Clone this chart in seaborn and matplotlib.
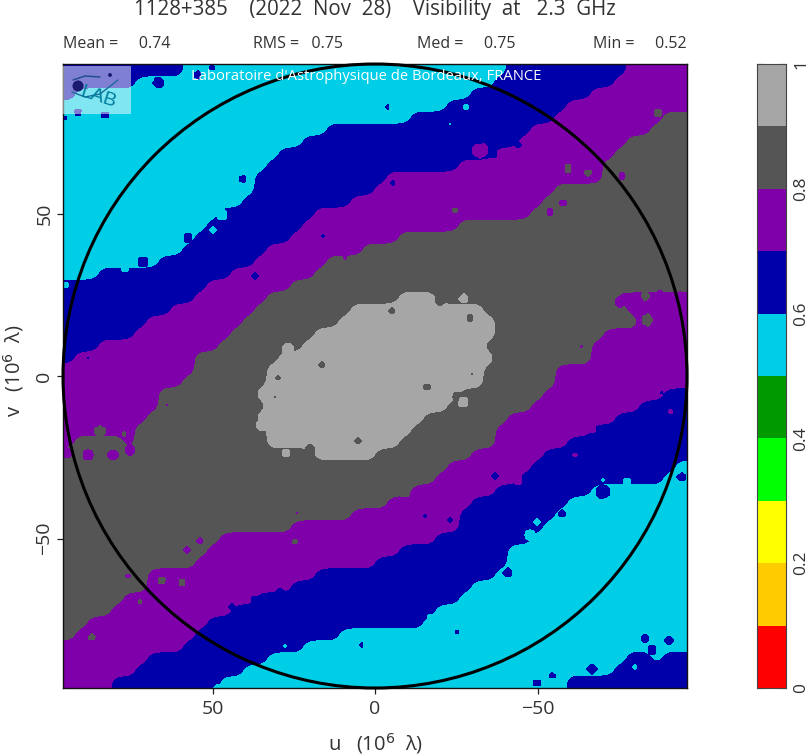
import numpy as np
import matplotlib
matplotlib.use("Agg")
import matplotlib.pyplot as plt
from matplotlib.colors import ListedColormap
from matplotlib.patches import Circle, Rectangle
from matplotlib.ticker import MultipleLocator
import seaborn as sns

# Visibility level of each map row (top to bottom).
# Each token is "tenths-band:end column" on a 52-column grid.
ROWS = [
"6:10 5:37 6:47 7:52", "6:6 5:36 6:46 7:52", "6:1 5:34 6:44 7:52", "5:32 6:42 7:52",
"5:29 6:41 7:50 8:52", "5:22 6:39 7:49 8:52", "5:20 6:38 7:47 8:52", "5:18 6:36 7:46 8:52",
"5:17 6:33 7:45 8:52", "5:16 6:27 7:45 8:52", "5:16 6:26 7:41 8:52", "5:15 6:24 7:40 8:52",
"5:13 6:21 7:39 8:52", "5:12 6:20 7:33 8:52", "5:11 6:19 7:28 8:52", "5:10 6:17 7:25 8:52",
"5:8 6:16 7:22 8:52", "5:3 6:14 7:21 8:52", "6:12 7:19 8:52",
"6:11 7:17 8:28 9:31 8:46 7:52",
"6:9 7:16 8:24 9:35 8:47 7:52",
"6:7 7:15 8:23 9:36 8:48 7:52", "6:6 7:14 8:21 9:36 8:45 7:52", "6:3 7:13 8:20 9:35 8:44 7:52",
"6:1 7:11 8:18 9:36 8:44 7:52", "7:11 8:17 9:35 8:41 7:52", "7:10 8:17 9:35 8:41 7:52",
"7:8 8:16 9:33 8:40 7:50 6:52", "7:8 8:17 9:32 8:39 7:48 6:52", "7:7 8:16 9:30 8:37 7:46 6:52",
"7:6 8:17 9:29 8:36 7:44 6:52", "7:1 8:5 7:6 8:17 9:28 8:36 7:42 6:52",
"8:21 9:26 8:34 7:40 6:52", "8:32 7:39 6:51 5:52", "8:31 7:38 6:50 5:52",
"8:29 7:36 6:44 5:52", "8:27 7:34 6:42 5:52", "8:24 7:33 6:41 5:52",
"8:19 7:33 6:40 5:52", "8:13 7:31 6:39 5:52", "8:12 7:28 6:37 5:52", "8:11 7:26 6:37 5:52",
"8:7 7:21 6:36 5:52", "8:7 7:19 6:34 5:52", "8:5 7:16 6:33 5:52", "8:4 7:14 6:31 5:52",
"8:2 7:12 6:30 5:52", "8:1 7:11 6:23 5:52", "7:10 6:20 5:52",
"7:7 6:17 5:47 6:49 5:50 6:52", "7:6 6:15 5:46 6:52", "7:4 6:13 5:42 6:52",
]
# Small islands in the map: picture x, picture y, radius (px), band in tenths.
SPOT_X = [159,212,198,242,188,222,213,125,143,78,105,65,65,88,323,255,345,322,278,288,
          388,466,450,393,518,493,455,550,563,568,588,658,622,392,440,464,475,485,470,
          620,637,660,680,625,648,582,358,310,275,263,275,286,168,100,124,88,113,130,67,
          200,187,128,162,182,140,92,295,297,255,232,280,357,285,362,217,472,427,457,463,
          495,425,450,405,508,478,537,552,592,645,652,669,635,562,530,537,627,603,682,682,
          592,662,671,575,518,457,430,603,660,480,645]
SPOT_Y = [83,68,75,179,238,215,230,268,262,113,115,118,285,358,236,276,258,365,378,350,
          107,107,124,183,145,155,210,212,203,168,172,113,176,311,302,299,310,326,318,
          302,298,298,298,318,320,347,441,450,397,425,442,453,405,432,434,455,455,450,453,
          541,550,576,581,583,602,638,542,513,600,607,593,570,646,645,687,374,387,397,402,
          476,516,520,493,573,588,683,676,669,638,650,640,667,514,535,522,482,480,470,477,
          428,393,412,455,480,632,618,492,305,150,296]
SPOT_R = [5,3,4,4,4,6,4,5,5,3,4,3,4,2,3,4,3,4,3,6,
          2,3,2,3,4,4,3,4,4,4,3,3,4,4,5,4,5,6,4,
          6,7,8,7,2,5,2,4,6,2,6,5,3,2,5,2,6,6,6,6,
          4,4,3,3,3,2,3,3,2,5,4,5,3,3,2,3,2,4,5,5,
          4,3,3,4,4,4,4,3,4,4,4,4,3,3,6,4,5,3,5,4,
          4,2,2,2,4,2,4,6,7,7,4]
SPOT_BAND = [6,6,6,6,6,5,5,5,6,6,6,6,5,6,6,6,7,8,8,9,
             6,5,5,6,6,6,8,7,7,8,8,8,7,8,8,9,9,9,8,
             7,7,7,7,8,8,7,8,8,8,9,9,9,7,8,8,7,7,7,7,
             7,7,7,8,8,8,8,8,7,6,6,6,6,5,6,5,8,8,8,9,
             6,6,6,8,6,5,6,6,6,6,6,6,5,6,5,5,5,5,5,6,
             7,6,7,7,7,6,5,6,7,7,8]
BAND_COLOURS = ["#ff0000", "#ffcc00", "#ffff00", "#00ff00", "#009900",
                "#00cde6", "#0000aa", "#7f00aa", "#555555", "#a6a6a6"]
BAND_LEVELS = [0.95, 0.85, 0.75, 0.65, 0.55, 0.45, 0.35, 0.25, 0.15, 0.05]
BAR_TICKS = ["1", "", "0.8", "", "0.6", "", "0.4", "", "0.2", "", "0"]
TITLE = "1128+385    (2022  Nov  28)    Visibility  at   2.3  GHz"
STATS = [("Mean =     0.74", 63), ("RMS =   0.75", 253), ("Med =     0.75", 417), ("Min =     0.52", 593)]
EXTENT = 96.0
FINE = 6

def expand(spec):
    out, start = [], 0
    for tok in spec.split():
        band, end = tok.split(":")
        out += [int(band) / 10 + 0.05] * (int(end) - start)
        start = int(end)
    return out

def box(a, size):
    k = np.ones(size) / size
    p = size // 2
    a = np.pad(a, p, mode="edge")
    a = np.apply_along_axis(lambda r: np.convolve(r, k, mode="same"), 0, a)
    a = np.apply_along_axis(lambda r: np.convolve(r, k, mode="same"), 1, a)
    return a[p:-p, p:-p]

sns.set_theme(style="ticks", rc={"axes.linewidth": 1.0})
plt.rcParams["font.family"] = ["Open Sans", "DejaVu Sans"]
TXT = "#333333"

W, H = 810, 756
fig = plt.figure(figsize=(W / 100, H / 100), dpi=100, facecolor="white")
ax = fig.add_axes([63 / W, (H - 688) / H, 624 / W, 624 / H])

grid = np.array([expand(r) for r in ROWS])
n = len(ROWS)
m = n * FINE
fine = np.repeat(np.repeat(grid, FINE, axis=0), FINE, axis=1)
fine = box(box(fine, FINE + 1), FINE + 1)
cell = 2 * EXTENT / m
us = EXTENT - cell * (np.arange(m) + 0.5)
vs = EXTENT - cell * (np.arange(m) + 0.5)
UU, VV = np.meshgrid(us, vs)
for x, y, r, b in zip(SPOT_X, SPOT_Y, SPOT_R, SPOT_BAND):
    u0, v0 = (375 - x) / 3.25, (376 - y) / 3.25
    fine[(UU - u0) ** 2 + (VV - v0) ** 2 <= (r / 3.25) ** 2] = b / 10 + 0.05
fine = np.pad(fine, 1, mode="edge")
us = np.r_[EXTENT, us, -EXTENT]
vs = np.r_[EXTENT, vs, -EXTENT]
cmap = ListedColormap(BAND_COLOURS)
ax.contourf(us, vs, fine, levels=np.arange(0, 1.01, 0.1), cmap=cmap, vmin=0, vmax=1)
ax.set_xlim(EXTENT, -EXTENT)
ax.set_ylim(-EXTENT, EXTENT)
ax.add_patch(Circle((0, 0), EXTENT, fill=False, ec="black", lw=2.2, zorder=5, clip_on=False))

for axis in (ax.xaxis, ax.yaxis):
    axis.set_major_locator(MultipleLocator(50))
    axis.set_minor_locator(MultipleLocator(10))
ax.tick_params(which="major", direction="in", length=10, width=0.9, top=True, right=True,
               labelsize=14, pad=9, colors="#222222", labelcolor=TXT)
ax.tick_params(which="minor", direction="in", length=5, width=0.7, top=True, right=True, color="#222222")
ax.tick_params(axis="y", which="major", pad=7)
ax.set_xticks([50, 0, -50], ["50", "0", "\u221250"])
ax.set_yticks([50, 0, -50], ["50", "0", "\u221250"], rotation=90, va="center")
for sec, side in ((ax.secondary_xaxis("bottom"), "x"), (ax.secondary_yaxis("left"), "y")):
    getattr(sec, f"set_{side}ticks")([50, 0, -50], ["", "", ""])
    sec.tick_params(direction="out", length=4, width=0.9, pad=0, color="#222222")
    sec.spines[:].set_visible(False)
for s in ax.spines.values():
    s.set_color("#111111")

def uv(x, y):
    return (375 - np.asarray(x, float)) / 3.25, (376 - np.asarray(y, float)) / 3.25

# logo veil
ax.add_patch(Rectangle((96, 80.6), -21, 14.8, fc="white", alpha=0.5, ec="none", zorder=6))
ax.add_patch(Circle(uv(78, 86), 1.7, fc="#1a1a70", ec="none", zorder=7))
ax.add_patch(Circle(uv(110, 75), 0.6, fc="#1a1a70", ec="none", zorder=7))
ax.plot(*uv([73, 85, 100], [80, 76, 77]), color="#1a4a8a", lw=1.0, zorder=7)
ax.plot(*uv([72, 85, 100, 118], [92, 97, 94, 80]), color="#1a6a9a", lw=1.0, zorder=7)
ax.text(*uv(98, 97), "LAB", color="#007d9c", fontsize=14, ha="center", va="center", rotation=-18,
        zorder=8, family="Liberation Sans")
ax.text(*uv(366, 77), "Laboratoire d'Astrophysique de Bordeaux, FRANCE",
        color="white", fontsize=10.65, ha="center", va="center", zorder=8, family="Open Sans")

fig.text(375 / W, 1 - 10 / H, TITLE, ha="center", va="center", fontsize=14.8, color=TXT)
for label, x in STATS:
    fig.text(x / W, 1 - 44 / H, label, ha="left", va="center", fontsize=11.5, color=TXT)
fig.text(376 / W, 1 - 744 / H, "u   (10$^{6}$  \u03bb)", ha="center", va="center", fontsize=14.5, color=TXT)
fig.text(14 / W, 1 - 371 / H, "v   (10$^{6}$  \u03bb)", ha="center", va="center", rotation=90, fontsize=14.5, color=TXT)

# colour bar strip
cax = fig.add_axes([757 / W, (H - 688) / H, 29 / W, 624 / H])
sns.heatmap(np.array(BAND_LEVELS).reshape(-1, 1), ax=cax, cmap=cmap, vmin=0, vmax=1, cbar=False,
            xticklabels=False, yticklabels=False)
cax.yaxis.tick_right()
cax.set_yticks(np.arange(len(BAR_TICKS)), BAR_TICKS, rotation=90, va="center", fontsize=12.5, color=TXT)
cax.tick_params(axis="y", direction="in", length=5, width=0.8, left=True, right=True, pad=5, color="#222222")
for s in cax.spines.values():
    s.set_visible(True)
    s.set_color("#444444")
    s.set_linewidth(0.8)

fig.savefig("out.png", dpi=100)
